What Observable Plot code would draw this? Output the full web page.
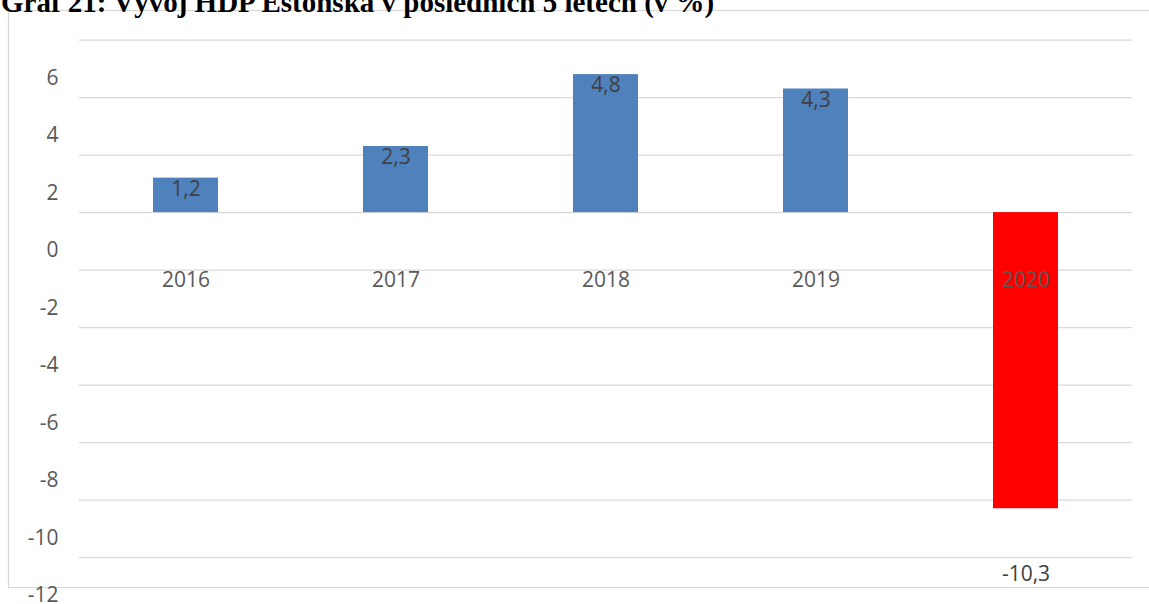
<!DOCTYPE html>
<html>
<head>
<meta charset="utf-8">
<script src="https://cdn.jsdelivr.net/npm/d3@7"></script>
<script src="https://cdn.jsdelivr.net/npm/@observablehq/plot@0.6"></script>
<style>
  html, body { margin: 0; padding: 0; background: #fff; overflow: hidden; }
  #wrap { position: relative; width: 1149px; height: 604px; }
  #chart { position: absolute; left: 0; top: 0; }
  #title {
    position: absolute; left: 1px; top: -11.8px; z-index: 2;
    font-family: "Liberation Serif", "Times New Roman", serif;
    font-weight: bold; font-size: 29px; line-height: 29px; color: #000;
    white-space: nowrap;
  }
</style>
</head>
<body>
<div id="wrap">
  <div id="chart"></div>
  <div id="title">Graf 21: Vývoj HDP Estonska v posledních 5 letech (v %)</div>
</div>
<script>
const years = ["2016", "2017", "2018", "2019", "2020"];
const growth = [1.2, 2.3, 4.8, 4.3, -10.3];
const yTicks = [6, 4, 2, 0, -2, -4, -6, -8, -10, -12];
const data = years.map((year, i) => ({year, value: growth[i]}));
const fmt = v => String(v).replace(".", ",");
const font = "'Open Sans', Calibri, sans-serif";

const chart = Plot.plot({
  width: 1149,
  height: 604,
  marginLeft: 79,
  marginRight: 17,
  marginTop: 10,
  marginBottom: 17,
  style: {fontFamily: font, background: "transparent"},
  x: {domain: years, paddingInner: 0.69, paddingOuter: 0.345, axis: null},
  y: {domain: [-13.04, 7.03], axis: null},
  color: {type: "identity"},
  marks: [
    Plot.frame({stroke: "#d9d9d9", strokeWidth: 1.2, insetLeft: -71, insetRight: -40}),
    Plot.ruleY(yTicks, {stroke: "#d9d9d9", strokeWidth: 1.3}),
    Plot.barY(data, {x: "year", y: "value", fill: d => d.value < 0 ? "#ff0000" : "#4f81bd"}),
    Plot.text(data, {x: "year", y: d => 0, dy: 68, text: "year", fill: "#595959", fontSize: 21}),
    Plot.text(data.filter(d => d.value >= 0), {x: "year", y: "value", dy: 11, text: d => fmt(d.value), fill: "#404040", fontSize: 21}),
    Plot.text(data.filter(d => d.value < 0), {x: "year", y: "value", dy: 66, text: d => fmt(d.value), fill: "#404040", fontSize: 21}),
    Plot.axisY(yTicks, {tickSize: 0, tickPadding: 21, dy: 38, fontSize: 21, fill: "#595959", label: null, tickFormat: d => d})
  ]
});
document.getElementById("chart").appendChild(chart);
</script>
</body>
</html>
